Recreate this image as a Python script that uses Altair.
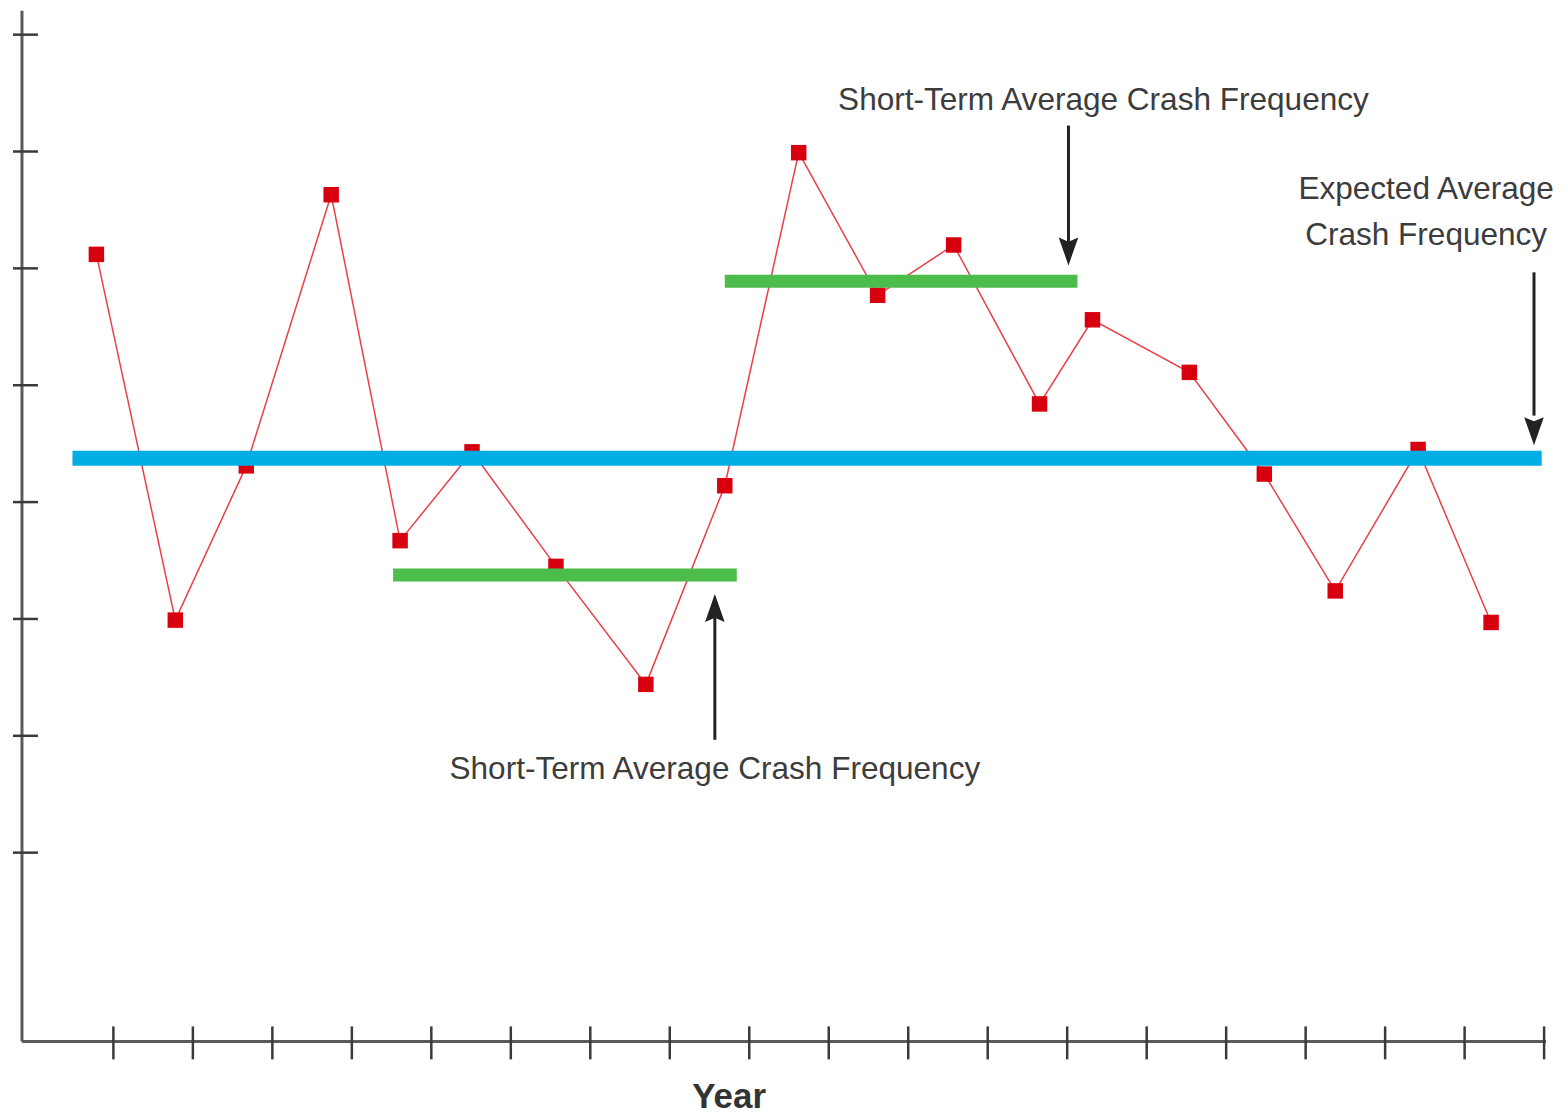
import altair as alt
import pandas as pd

# ---- data ----
year_pos = [0.786, 1.779, 2.672, 3.740, 4.607, 5.512, 6.568, 7.699, 8.692, 9.622,
            10.615, 11.571, 12.652, 13.318, 14.537, 15.480, 16.372, 17.415, 18.333]
crash_freq = [6.12, 2.99, 4.31, 6.63, 3.67, 4.43, 3.45, 2.44, 4.14, 6.99,
              5.77, 6.20, 4.84, 5.56, 5.11, 4.24, 3.24, 4.45, 2.97]
tick_years = list(range(1, 20))
y_tick_values = list(range(1, 9))

expected_start = [0.485]
expected_end = [18.97]
expected_value = [4.376]

short_start = [4.519, 8.692]
short_end = [8.843, 13.129]
short_value = [3.376, 5.889]

ann_text = ["Short-Term Average Crash Frequency", "Short-Term Average Crash Frequency",
            "Expected Average", "Crash Frequency"]
ann_x = [13.456, 8.567, 17.516, 17.516]
ann_y = [7.436, 1.709, 6.667, 6.274]

arrow_x = [13.016, 8.567, 18.873]
arrow_from = [7.222, 1.966, 5.966]
arrow_to = [6.197, 3.034, 4.740]
arrow_head = [6.145, 3.094, 4.607]
arrow_dir = ["down", "up", "down"]

# ---- chart ----
W, H = 1540, 1034
xs = alt.Scale(domain=[-0.15, 19.2], nice=False, zero=False)
ys = alt.Scale(domain=[-0.615, 8.222], nice=False, zero=False)

series = pd.DataFrame({"year": year_pos, "freq": crash_freq})

line = alt.Chart(series).mark_line(color="#e8404a", strokeWidth=1.5).encode(
    x=alt.X("year:Q", scale=xs, axis=None),
    y=alt.Y("freq:Q", scale=ys, axis=None),
)
points = alt.Chart(series).mark_square(size=240, color="#d8000f", opacity=1).encode(
    x=alt.X("year:Q", scale=xs, axis=None),
    y=alt.Y("freq:Q", scale=ys, axis=None),
)

exp_df = pd.DataFrame({"x1": expected_start, "x2": expected_end, "v": expected_value})
expected = alt.Chart(exp_df).mark_rule(color="#00ade4", strokeWidth=15).encode(
    x=alt.X("x1:Q", scale=xs, axis=None), x2="x2:Q",
    y=alt.Y("v:Q", scale=ys, axis=None),
)

st_df = pd.DataFrame({"x1": short_start, "x2": short_end, "v": short_value})
short = alt.Chart(st_df).mark_rule(color="#4cbd4a", strokeWidth=13).encode(
    x=alt.X("x1:Q", scale=xs, axis=None), x2="x2:Q",
    y=alt.Y("v:Q", scale=ys, axis=None),
)

arr_df = pd.DataFrame({"x": arrow_x, "y1": arrow_from, "y2": arrow_to,
                       "yh": arrow_head, "dir": arrow_dir})
arr_df["shape"] = arr_df["dir"].map({"down": "M0,1L-0.7,-1L0,-0.7L0.7,-1Z",
                                     "up": "M0,-1L-0.7,1L0,0.7L0.7,1Z"})
shafts = alt.Chart(arr_df).mark_rule(color="#222222", strokeWidth=3).encode(
    x=alt.X("x:Q", scale=xs, axis=None),
    y=alt.Y("y1:Q", scale=ys, axis=None), y2="y2:Q",
)
heads = alt.Chart(arr_df).mark_point(filled=True, size=784, color="#222222", opacity=1).encode(
    x=alt.X("x:Q", scale=xs, axis=None),
    y=alt.Y("yh:Q", scale=ys, axis=None),
    shape=alt.Shape("shape:N", scale=None),
)

ann_df = pd.DataFrame({"t": ann_text, "x": ann_x, "y": ann_y})
labels = alt.Chart(ann_df).mark_text(
    font="Liberation Sans", fontSize=31.6, color="#3c3c3c",
    align="center", baseline="middle",
).encode(
    x=alt.X("x:Q", scale=xs, axis=None),
    y=alt.Y("y:Q", scale=ys, axis=None),
    text="t:N",
)

one = pd.DataFrame({"a": [0]})
x_axis_line = alt.Chart(one).mark_rule(color="#5a5a5a", strokeWidth=3).encode(
    x=alt.value(0), x2=alt.value(1526), y=alt.value(H))
y_axis_line = alt.Chart(one).mark_rule(color="#5a5a5a", strokeWidth=3).encode(
    x=alt.value(0), y=alt.value(2), y2=alt.value(H))

xt_df = pd.DataFrame({"t": tick_years})
x_ticks = alt.Chart(xt_df).mark_rule(color="#3a3a3a", strokeWidth=2.5).encode(
    x=alt.X("t:Q", scale=xs, axis=None), y=alt.value(H - 15), y2=alt.value(H + 18))
yt_df = pd.DataFrame({"t": y_tick_values})
y_ticks = alt.Chart(yt_df).mark_rule(color="#3a3a3a", strokeWidth=2.5).encode(
    y=alt.Y("t:Q", scale=ys, axis=None), x=alt.value(-9), x2=alt.value(16))

title_df = pd.DataFrame({"t": ["Year"]})
x_title = alt.Chart(title_df).mark_text(
    font="Liberation Sans", fontSize=35, fontWeight="bold", color="#333333",
    align="center", baseline="middle",
).encode(x=alt.value(708), y=alt.value(1090), text="t:N")

chart = alt.layer(
    x_axis_line, y_axis_line, x_ticks, y_ticks,
    line, points, expected, short, shafts, heads, labels, x_title,
).properties(
    width=W, height=H,
    padding={"left": 14, "top": 0, "right": 0, "bottom": 76},
    autosize="none",
    background="white",
).configure_view(stroke=None)

chart.save("out.html", embed_options={"renderer": "svg", "actions": False})
